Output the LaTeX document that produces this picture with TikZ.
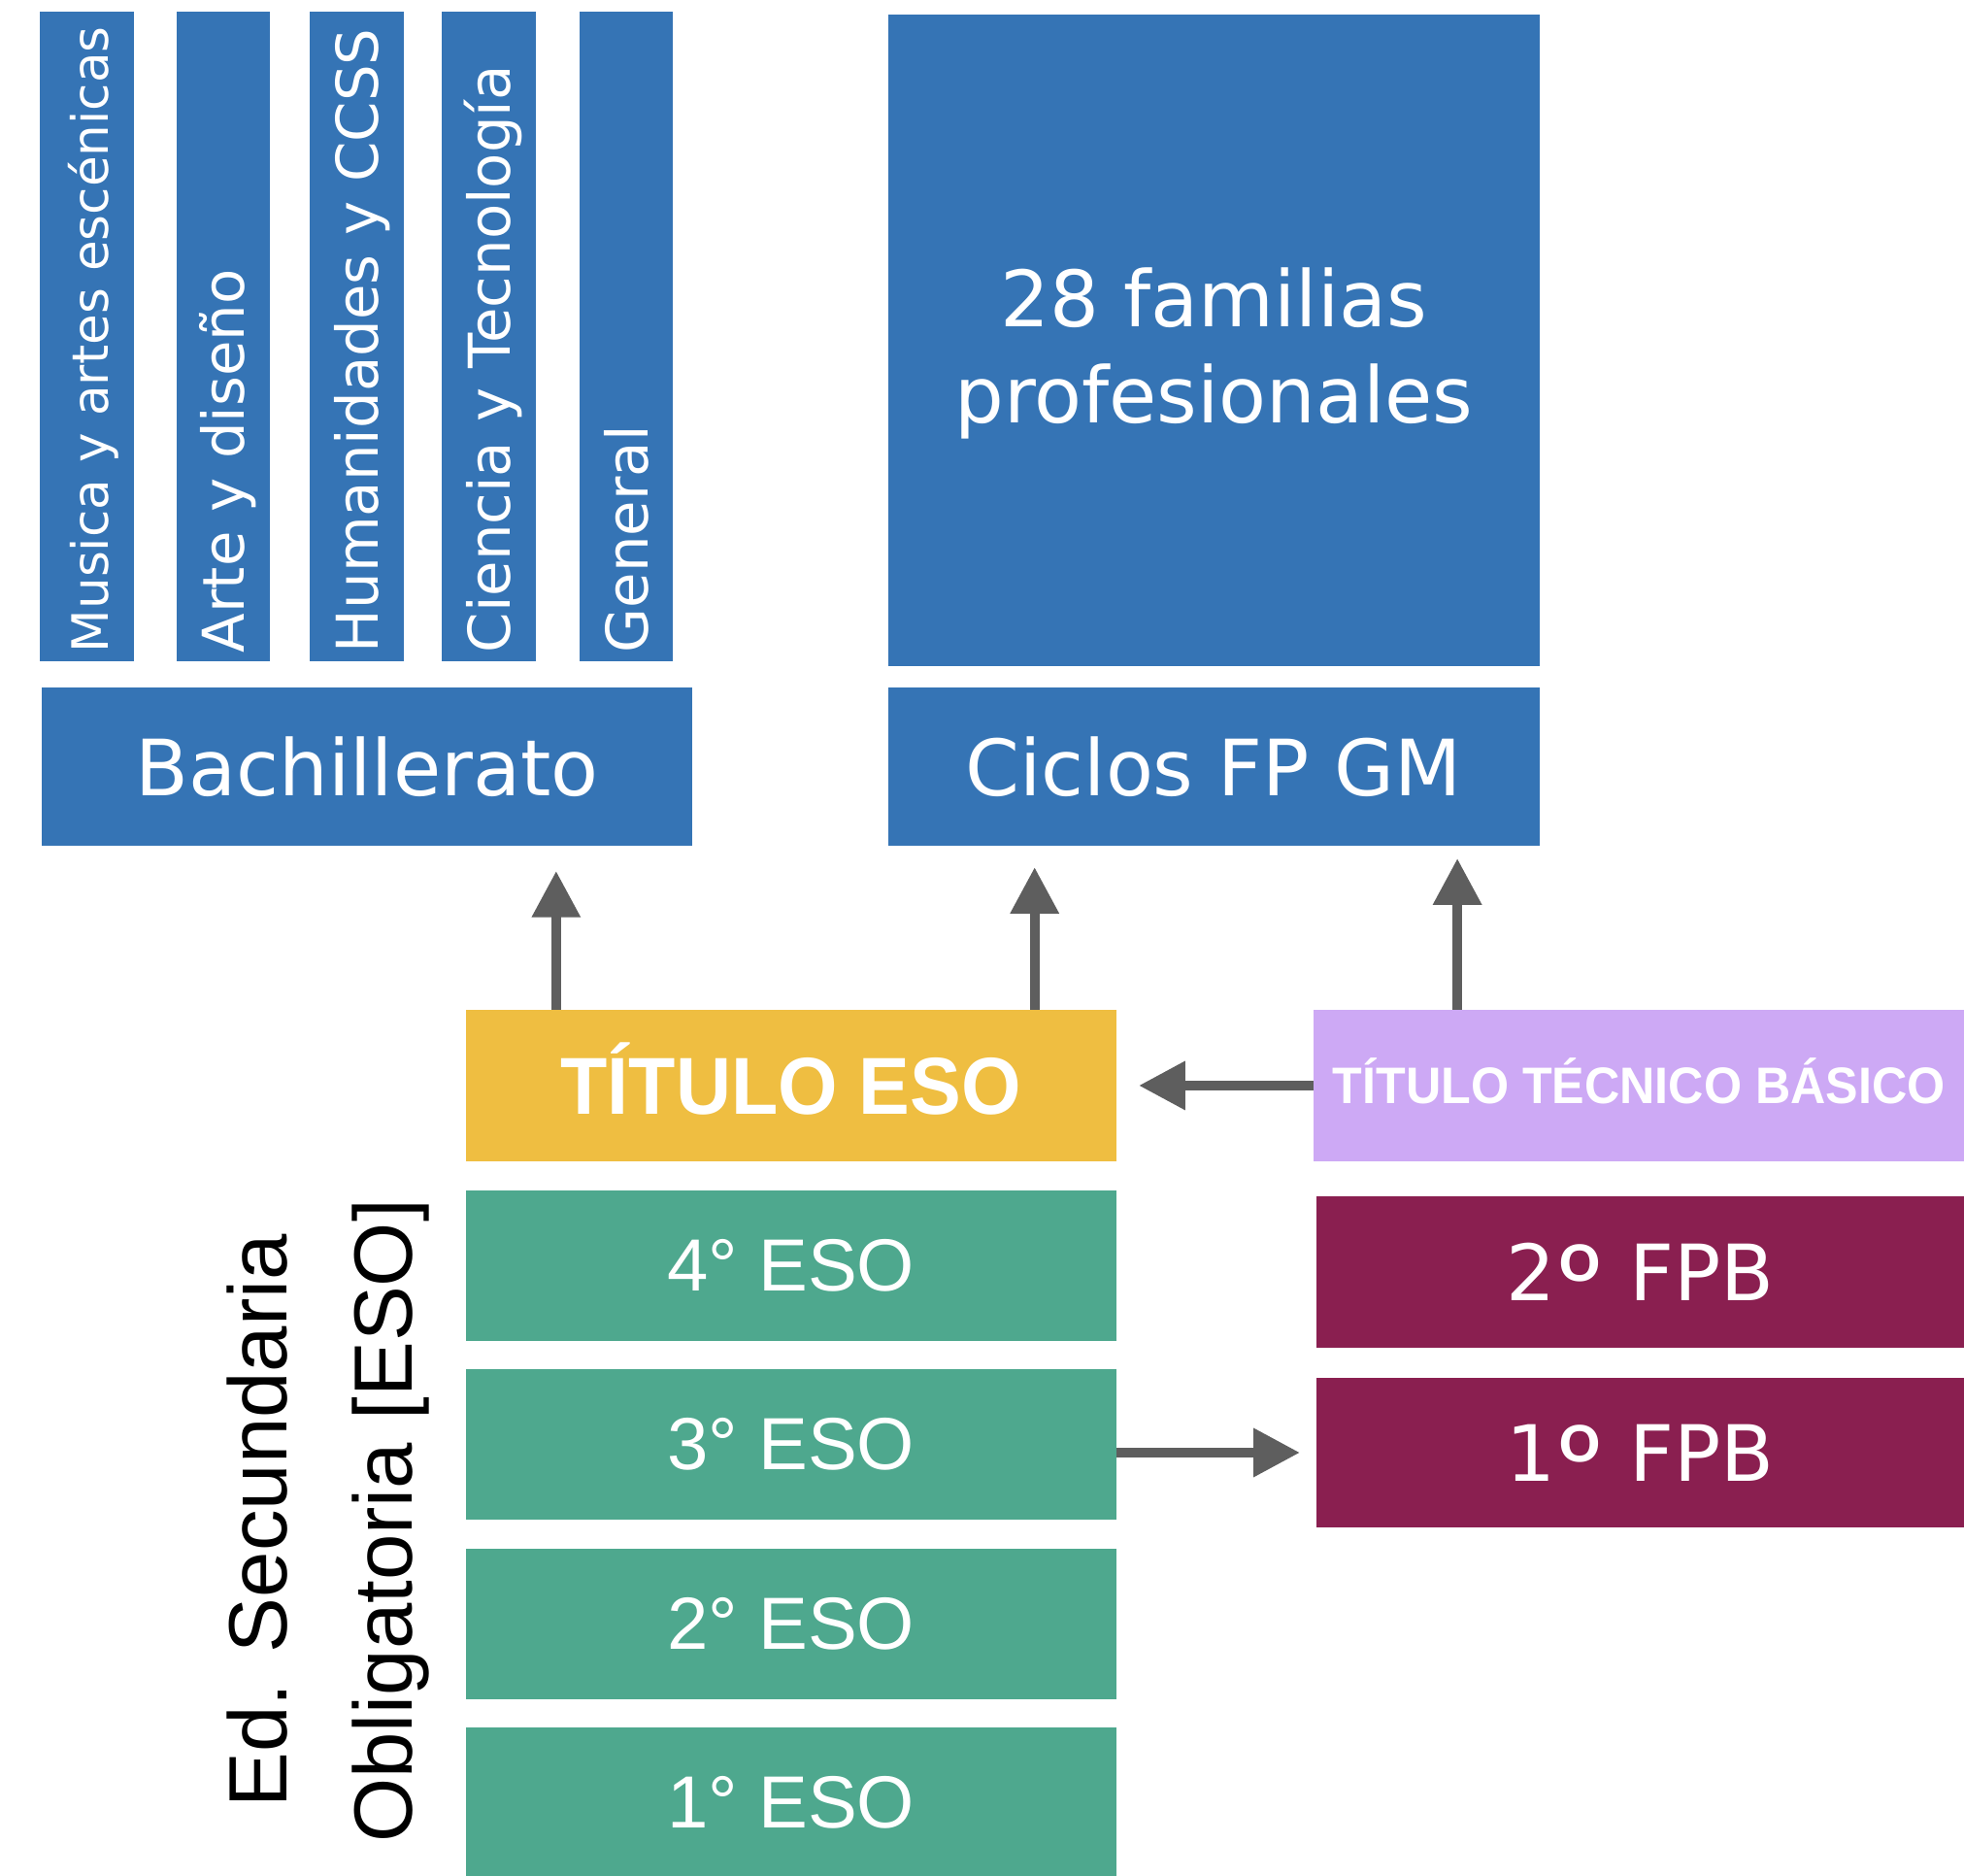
\documentclass[tikz,border=0pt]{standalone}
\usepackage{graphicx}
\usepackage{fontspec}
\setmainfont{DejaVu Sans}
\newfontfamily\arialf{Liberation Sans}
\newfontfamily\condf[FakeStretch=0.95]{Liberation Sans}
\newfontfamily\ordf{Lato}
\usetikzlibrary{arrows.meta}
\definecolor{cblue}{HTML}{3574B5}
\definecolor{cyellow}{HTML}{EFBE41}
\definecolor{clav}{HTML}{CDA9F5}
\definecolor{cgreen}{HTML}{4EA88E}
\definecolor{cmaroon}{HTML}{8A1F50}
\definecolor{carrow}{HTML}{5E5E5E}
\newcommand{\fsz}[2]{\fontsize{#1}{#2}\selectfont}
\newcommand{\ordo}{\raisebox{-25pt}{\scalebox{1.55}{\ordf º}}}
\begin{document}
\begin{tikzpicture}[x=1pt,y=-1pt,
  blk/.style={fill=#1, draw=none, inner sep=0pt, text=white},
  vbar/.style={blk=cblue, rotate=90, minimum height=75pt, text width=505pt,
     align=left, inner xsep=7pt, inner ysep=0pt, text height=34pt, text depth=0pt,
     font=\fsz{46}{54}},
  bigtxt/.style={font=\fsz{62}{74}},
  esotxt/.style={font=\arialf\fsz{59}{70}},
  arr/.style={draw=carrow, line width=8pt, -{Triangle[length=37pt,width=37pt]}},
]
\useasboundingbox (0,0) rectangle (1568,1497);

% Bachillerato modalities
\node[vbar, font=\fsz{40}{48}] (b1) at (69.5,268.5) {\mbox{Musica y artes escénicas}};
\node[vbar] (b2) at (178.3,268.5) {\mbox{Arte y diseño}};
\node[vbar] (b3) at (285,268.5) {\mbox{Humanidades y CCSS}};
\node[vbar] (b4) at (390,268.5) {\mbox{Ciencia y Tecnología}};
\node[vbar] (b5) at (500,268.5) {\mbox{General}};

\node[blk=cblue, bigtxt, minimum width=520pt, minimum height=126pt] (bach) at (293,612) {Bachillerato};

% FP Grado Medio
\node[blk=cblue, minimum width=520pt, minimum height=520pt] (fam) at (969,272) {};
\node[text=white, align=center, font=\fsz{62}{77}, inner sep=0pt] (famtxt) at ([yshift=-10pt]fam.center) {28 familias\\profesionales};
\node[blk=cblue, bigtxt, minimum width=520pt, minimum height=126pt] (ciclos) at (969,612) {Ciclos FP GM};

% Titles
\node[blk=cyellow, minimum width=519pt, minimum height=121pt, font=\condf\bfseries\fsz{64.5}{76}, text height=46pt, text depth=0pt] (te) at (631.5,866.5) {TÍTULO ESO};
\node[blk=clav, minimum width=519pt, minimum height=121pt, font=\condf\bfseries\fsz{41}{50}, text height=29.4pt, text depth=0pt] (ttb) at (1308.5,866.5) {TÍTULO TÉCNICO BÁSICO};

% ESO courses
\node[blk=cgreen, esotxt, minimum width=519pt, minimum height=120pt] (eso4) at (631.5,1010) {4° ESO};
\node[blk=cgreen, esotxt, minimum width=519pt, minimum height=120pt] (eso3) at (631.5,1153) {3° ESO};
\node[blk=cgreen, esotxt, minimum width=519pt, minimum height=120pt] (eso2) at (631.5,1296) {2° ESO};
\node[blk=cgreen, esotxt, minimum width=519pt, minimum height=120pt] (eso1) at (631.5,1439) {1° ESO};

% FPB courses
\node[blk=cmaroon, bigtxt, minimum width=517pt, minimum height=121pt, text height=45pt, text depth=0pt] (fpb2) at (1309.5,1015.5) {2\ordo\ FPB};
\node[blk=cmaroon, bigtxt, minimum width=517pt, minimum height=119pt, text height=45pt, text depth=0pt] (fpb1) at (1309.5,1159.5) {1\ordo\ FPB};

% side label
\node[rotate=90, align=center, font=\arialf\fsz{66}{100}, inner sep=0pt] (side) at (262,1214) {Ed. Secundaria\\Obligatoria [ESO]};

% arrows
\coordinate (s1) at ([xshift=-187.5pt]te.north);
\draw[arr, shorten >=20pt] (s1) -- (s1 |- bach.south);
\coordinate (s2) at ([xshift=194.5pt]te.north);
\draw[arr, shorten >=17pt] (s2) -- (s2 |- ciclos.south);
\coordinate (s3) at ([xshift=-145pt]ttb.north);
\draw[arr, shorten >=10pt] (s3) -- (s3 |- ciclos.south);
\draw[arr, shorten >=18pt] (ttb.west) -- (te.east);
\draw[arr, shorten >=13pt] (eso3.east |- fpb1.west) -- (fpb1.west);
\end{tikzpicture}
\end{document}
